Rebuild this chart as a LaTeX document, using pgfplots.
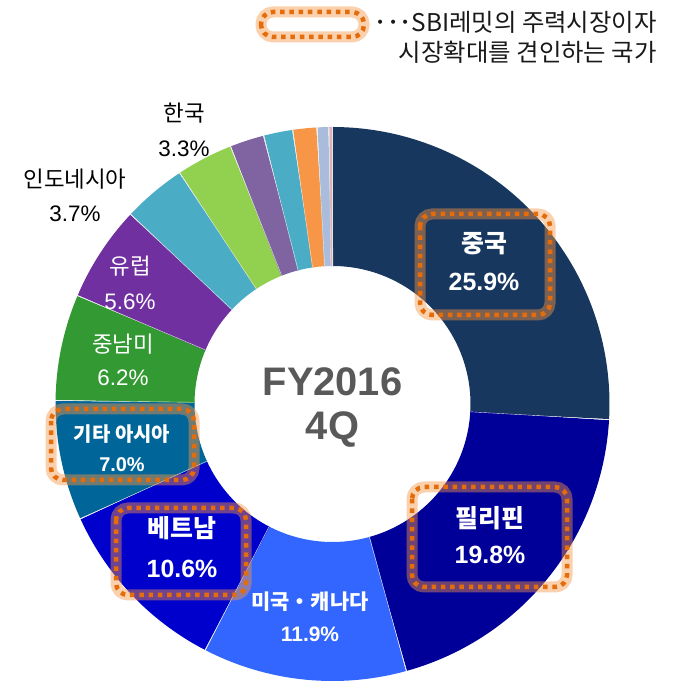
\documentclass[border=0pt]{standalone}
\usepackage{fontspec}
\setmainfont{Liberation Sans}
\newfontfamily\kr{Noto Sans CJK KR}
\usepackage{pgfplots}
\pgfplotsset{compat=1.18}
\definecolor{cChina}{HTML}{17375E}
\definecolor{cPhil}{HTML}{000099}
\definecolor{cUSA}{HTML}{3366FF}
\definecolor{cViet}{HTML}{0000CC}
\definecolor{cAsia}{HTML}{006699}
\definecolor{cLatam}{HTML}{339933}
\definecolor{cEuro}{HTML}{7030A0}
\definecolor{cIndo}{HTML}{4BACC6}
\definecolor{cKor}{HTML}{92D050}
\definecolor{cS1}{HTML}{8064A2}
\definecolor{cS2}{HTML}{4BACC6}
\definecolor{cS3}{HTML}{F79646}
\definecolor{cS4}{HTML}{A9BCDB}
\definecolor{cS5}{HTML}{E0B0B8}
\definecolor{dotor}{HTML}{E46C0A}
\definecolor{glow}{HTML}{F79646}
\definecolor{ctr}{HTML}{595959}
\def\cx{332.5}
\def\cy{278}
\def\rmid{207.5}
\newcommand\hlbox[4]{%
  \draw[glow, opacity=0.45, line width=11bp, rounded corners=12bp] (axis cs:#1,#2) rectangle (axis cs:#3,#4);
  \draw[dotor, line width=4.5bp, dash pattern=on 4.5bp off 4.8bp, rounded corners=12bp] (axis cs:#1,#2) rectangle (axis cs:#3,#4);
}
\begin{document}
\begin{tikzpicture}
\begin{axis}[scale only axis, width=673bp, height=682bp,
  xmin=0, xmax=673, ymin=0, ymax=682, hide axis, clip=false,
  ring/.style={line width=139bp, no marks, line cap=butt, line join=round}]
% shares in percent, clockwise from 12 o'clock: [start:end]
\addplot[ring, cChina, domain=0:25.9, samples=95]  ({\cx+\rmid*sin(3.6*x)},{\cy+\rmid*cos(3.6*x)});
\addplot[ring, cPhil,  domain=25.9:45.7, samples=73] ({\cx+\rmid*sin(3.6*x)},{\cy+\rmid*cos(3.6*x)});
\addplot[ring, cUSA,   domain=45.7:57.6, samples=45] ({\cx+\rmid*sin(3.6*x)},{\cy+\rmid*cos(3.6*x)});
\addplot[ring, cViet,  domain=57.6:68.2, samples=40] ({\cx+\rmid*sin(3.6*x)},{\cy+\rmid*cos(3.6*x)});
\addplot[ring, cAsia,  domain=68.2:75.2, samples=27] ({\cx+\rmid*sin(3.6*x)},{\cy+\rmid*cos(3.6*x)});
\addplot[ring, cLatam, domain=75.2:81.4, samples=24] ({\cx+\rmid*sin(3.6*x)},{\cy+\rmid*cos(3.6*x)});
\addplot[ring, cEuro,  domain=81.4:87.0, samples=22] ({\cx+\rmid*sin(3.6*x)},{\cy+\rmid*cos(3.6*x)});
\addplot[ring, cIndo,  domain=87.0:90.7, samples=15] ({\cx+\rmid*sin(3.6*x)},{\cy+\rmid*cos(3.6*x)});
\addplot[ring, cKor,   domain=90.7:94.0, samples=13] ({\cx+\rmid*sin(3.6*x)},{\cy+\rmid*cos(3.6*x)});
\addplot[ring, cS1,    domain=94.0:96.0, samples=8] ({\cx+\rmid*sin(3.6*x)},{\cy+\rmid*cos(3.6*x)});
\addplot[ring, cS2,    domain=96.0:97.7, samples=7] ({\cx+\rmid*sin(3.6*x)},{\cy+\rmid*cos(3.6*x)});
\addplot[ring, cS3,    domain=97.7:99.1, samples=6] ({\cx+\rmid*sin(3.6*x)},{\cy+\rmid*cos(3.6*x)});
\addplot[ring, cS4,    domain=99.1:99.8, samples=3] ({\cx+\rmid*sin(3.6*x)},{\cy+\rmid*cos(3.6*x)});
\addplot[ring, cS5,    domain=99.8:100, samples=2]  ({\cx+\rmid*sin(3.6*x)},{\cy+\rmid*cos(3.6*x)});
% thin white separators
\pgfplotsinvokeforeach{0,25.9,45.7,57.6,68.2,75.2,81.4,87.0,90.7,94.0,96.0,97.7,99.1,99.8}{
  \addplot[white!80!gray, line width=0.4bp, no marks, domain=138:277, samples=2] ({\cx+x*sin(3.6*#1)},{\cy+x*cos(3.6*#1)});
}
% highlight boxes
\hlbox{420}{468}{550}{367}
\hlbox{412}{195}{567}{95}
\hlbox{51}{273}{194}{202}
\hlbox{116}{174}{246}{87}
\hlbox{261}{670}{364}{645}
% labels
\node[text=white, align=center, font=\fontsize{25}{38}\selectfont\bfseries] at (axis cs:484,420) {{\kr 중국}\\25.9\%};
\node[text=white, align=center, font=\fontsize{25}{36}\selectfont\bfseries] at (axis cs:490,147) {{\kr 필리핀}\\19.8\%};
\node[text=white, align=center, font=\fontsize{21}{32}\selectfont\bfseries] at (axis cs:310,65) {{\kr 미국・캐나다}\\11.9\%};
\node[text=white, align=center, font=\fontsize{25}{40}\selectfont\bfseries] at (axis cs:182,135) {{\kr 베트남}\\10.6\%};
\node[text=white, align=center, font=\fontsize{20}{30}\selectfont\bfseries] at (axis cs:122,234) {{\kr 기타 아시아}\\7.0\%};
\node[text=white, align=center, font=\fontsize{22.5}{33}\selectfont] at (axis cs:123,322) {{\kr 중남미}\\6.2\%};
\node[text=white, align=center, font=\fontsize{22.5}{35}\selectfont] at (axis cs:130,399) {{\kr 유럽}\\5.6\%};
\node[text=black, align=center, font=\fontsize{22.5}{34}\selectfont] at (axis cs:75,487) {{\kr 인도네시아}\\3.7\%};
\node[text=black, align=center, font=\fontsize{22.5}{35}\selectfont] at (axis cs:184,552) {{\kr 한국}\\3.3\%};
\node[text=ctr, align=center, font=\fontsize{40}{45}\selectfont\bfseries] at (axis cs:332.5,274.5) {FY2016\\4Q};
\node[text=black!90, anchor=east, font=\fontsize{24.5}{28}\selectfont\kr, inner sep=0pt] at (axis cs:657,660) {･･･SBI레밋의 주력시장이자};
\node[text=black!90, anchor=east, font=\fontsize{24.5}{28}\selectfont\kr, inner sep=0pt] at (axis cs:657,630) {시장확대를 견인하는 국가};
\end{axis}
\path[use as bounding box] (0,0) rectangle (673bp,682bp);
\end{tikzpicture}
\end{document}
